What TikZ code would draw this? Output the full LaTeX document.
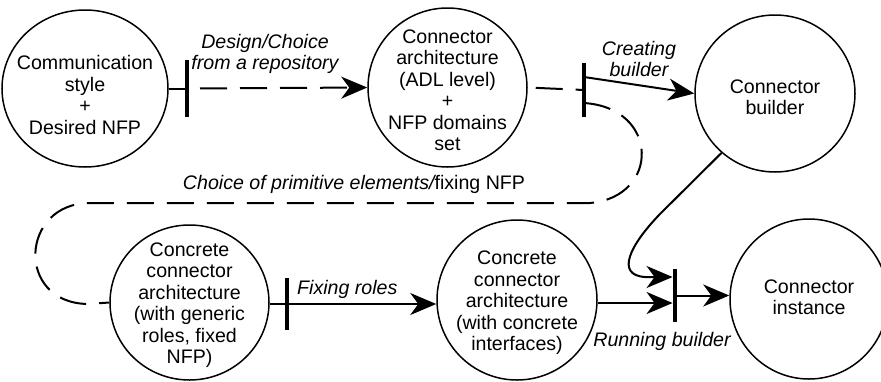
\documentclass[tikz,border=0pt]{standalone}
\usepackage{fontspec}
\setmainfont{Liberation Sans}
\usetikzlibrary{shapes.geometric,arrows.meta}
\tikzset{
  st/.style={ellipse, draw, line width=1.5pt, inner sep=0pt},
  txt/.style={align=center, font=\fontsize{19.6}{21.5}\selectfont, inner sep=0pt},
  lbl/.style={align=center, font=\fontsize{19.6}{21.5}\selectfont\itshape, inner sep=0pt},
  barn/.style={rectangle, fill=black, inner sep=0pt, minimum width=4.5pt},
  conn/.style={line width=2pt},
  dsh/.style={dash pattern=on 27pt off 13pt},
  arr/.style={-{Stealth[length=26pt,width=22pt,inset=8pt]}},
}
\begin{document}
\begin{tikzpicture}[x=1pt,y=-1pt]
\useasboundingbox (0,0) rectangle (881,381);
% states
\node[st, minimum width=166pt, minimum height=157pt] (c1) at (85,88.5) {};
\node[txt] (t1) at (85,95) {Communication\\style\\+\\Desired NFP};
\node[st, minimum width=159pt, minimum height=159pt] (c2) at (447.5,87.5) {};
\node[txt] (t2) at (447.5,90) {Connector\\architecture\\(ADL level)\\+\\NFP domains\\set};
\node[st, minimum width=160pt, minimum height=157pt] (c3) at (775,93.5) {};
\node[txt] (t3) at (775,97) {Connector\\builder};
\node[st, minimum width=159pt, minimum height=155pt] (c4) at (189.5,302.5) {};
\node[txt] (t4) at (189.5,305) {Concrete\\connector\\architecture\\(with generic\\roles, fixed\\NFP)};
\node[st, minimum width=160pt, minimum height=160pt] (c5) at (517,300) {};
\node[txt] (t5) at (517,303) {Concrete\\connector\\architecture\\(with concrete\\interfaces)};
\node[st, minimum width=158pt, minimum height=160pt] (c6) at (809,299) {};
\node[txt] (t6) at (809,297) {Connector\\instance};
% transitions
\node[barn, minimum height=57pt] (b1) at (187,88.5) {};
\node[barn, minimum height=54pt] (b2) at (584,90) {};
\node[barn, minimum height=52pt] (b3) at (287,304) {};
\node[barn, minimum height=53pt] (b4) at (675,295.5) {};
\coordinate (q1) at ([yshift=-7.5pt]b4.west);
\coordinate (q2) at ([yshift=18.5pt]b4.west);
% connectors
\draw[conn] (c1.east) -- (b1.center);
\draw[conn,dsh,dash phase=27pt,arr] (b1.center) -- (c2.west);
\draw[conn,dsh,dash phase=32pt] (c2.east) -- (b2.center);
\draw[conn,arr] ([yshift=13pt]b2.center) -- (c3.west);
\draw[conn,dsh] ([yshift=-13pt]b2.center) .. controls (660,108) and (660,197) .. (590,203)
  -- (90,203) .. controls (20,203) and (15,303) .. (88,304) -- (c4.west);
\draw[conn] (c4.east |- b3.center) -- (b3.center);
\draw[conn,arr] (b3.center) -- (b3.center -| c5.west);
\draw[conn,arr] (q1 -| c5.east) -- (q1);
\draw[conn,arr] (c3.228) -- (660,214) .. controls (630,245) and (615,275) .. (645,277) -- (q2);
\draw[conn,arr] (b4.center) -- (b4.center -| c6.west);
% labels
\node[lbl] (l1) at (265,54) {Design/Choice\\from a repository};
\node[lbl] (l2) at (639,59) {Creating\\builder};
\node[txt] (l3) at (354,184) {\itshape Choice of primitive elements/\upshape fixing NFP};
\node[lbl, anchor=west] (l4) at (297,289) {Fixing roles};
\node[lbl] (l5) at (662,341) {Running builder};
\end{tikzpicture}
\end{document}
